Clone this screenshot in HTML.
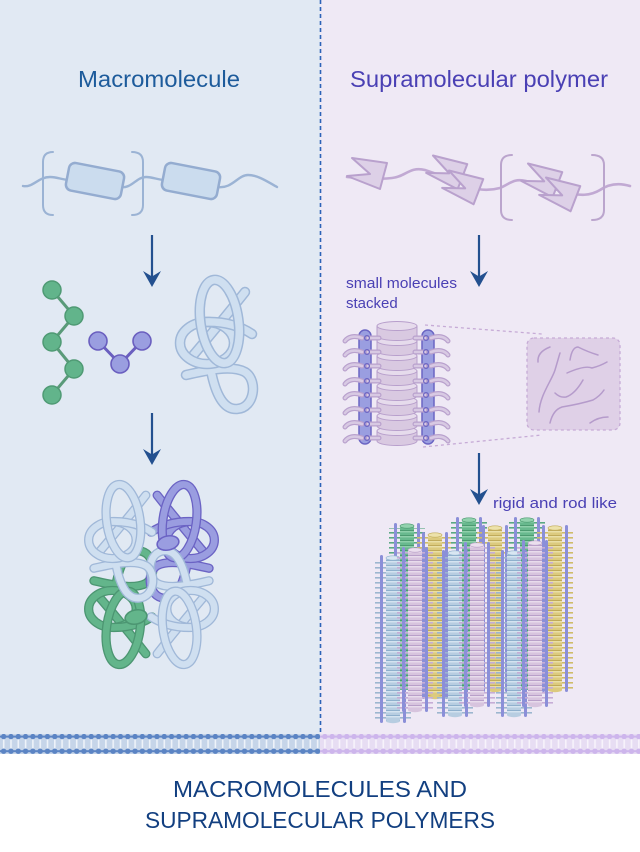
<!DOCTYPE html>
<html><head><meta charset="utf-8">
<style>
html,body{margin:0;padding:0;background:#fff;}
svg{display:block;}
text{font-family:"Liberation Sans",sans-serif;}
</style></head><body>
<svg width="640" height="852" viewBox="0 0 640 852" xmlns="http://www.w3.org/2000/svg" xmlns:xlink="http://www.w3.org/1999/xlink">
<defs>
  <g id="knot" stroke-linecap="round">
    <path d="M9,98 C23,95 53,87 68,95 C81,103 78,131 60,132 C45,133 37,113 33,88" style="fill:none;stroke:var(--o);stroke-width:10.5"/>
    <path d="M9,98 C23,95 53,87 68,95 C81,103 78,131 60,132 C45,133 37,113 33,88" style="fill:none;stroke:var(--f);stroke-width:7.5"/>
    <path d="M68,15 Q42,48 13,82" style="fill:none;stroke:var(--o);stroke-width:10.5"/>
    <path d="M68,15 Q42,48 13,82" style="fill:none;stroke:var(--f);stroke-width:7.5"/>
    <ellipse cx="30" cy="66" rx="27" ry="21" style="fill:none;stroke:var(--o);stroke-width:10.5"/>
    <ellipse cx="30" cy="66" rx="27" ry="21" style="fill:none;stroke:var(--f);stroke-width:7.5"/>
    <path d="M28,45 Q55,44 75,57" style="fill:none;stroke:var(--o);stroke-width:10.5"/>
    <path d="M28,45 Q55,44 75,57" style="fill:none;stroke:var(--f);stroke-width:7.5"/>
    <ellipse cx="42.5" cy="44.5" rx="19" ry="42" transform="rotate(-8 42.5 44.5)" style="fill:none;stroke:var(--o);stroke-width:10.5"/>
    <ellipse cx="42.5" cy="44.5" rx="19" ry="42" transform="rotate(-8 42.5 44.5)" style="fill:none;stroke:var(--f);stroke-width:7.5"/>
  </g>

  <polygon id="zz" points="5,0 40,5 33,31 0,18 23,16" fill="#ddd0e7" stroke="#b9a1cd" stroke-width="2" stroke-linejoin="round"/>

  <g id="arrow">
    <line x1="0" y1="0" x2="0" y2="44" stroke="#23508f" stroke-width="2.2"/>
    <polygon points="-9,36 0,41.5 9,36 0,52" fill="#23508f"/>
  </g>

  <g id="hrow" fill="none" stroke-linecap="round">
    <path d="M362,0 C354,-3 348,-1 345,3" stroke="#b9a1cd" stroke-width="5"/>
    <path d="M362,0 C354,-3 348,-1 345,3" stroke="#d8c9e3" stroke-width="2.6"/>
    <path d="M431,0 C439,-3 445,-1 448,3" stroke="#b9a1cd" stroke-width="5"/>
    <path d="M431,0 C439,-3 445,-1 448,3" stroke="#d8c9e3" stroke-width="2.6"/>
    <path d="M368,0 L379,0" stroke="#b9a1cd" stroke-width="5"/>
    <path d="M368,0 L379,0" stroke="#d8c9e3" stroke-width="2.6"/>
    <path d="M425,0 L415,0" stroke="#b9a1cd" stroke-width="5"/>
    <path d="M425,0 L415,0" stroke="#d8c9e3" stroke-width="2.6"/>
    <circle cx="367" cy="0" r="2.4" stroke="#6b65c3" stroke-width="1.2"/>
    <circle cx="426" cy="0" r="2.4" stroke="#6b65c3" stroke-width="1.2"/>
  </g>

  <g id="disc">
    <path d="M377,0 L377,10 A20,4.5 0 0 0 417,10 L417,0 Z" fill="#d9c9e1" stroke="#b79ecb" stroke-width="1"/>
    <ellipse cx="397" cy="0" rx="20" ry="4.5" fill="#e6dbec" stroke="#b79ecb" stroke-width="1"/>
  </g>

  <pattern id="dB" x="0" y="0" width="20" height="5" patternUnits="userSpaceOnUse">
    <rect width="20" height="5" fill="#b7cde1"/><rect width="20" height="1.1" fill="#8fb0cd"/><rect y="1.1" width="20" height="1.3" fill="#d8e6f2"/>
  </pattern>
  <pattern id="dP" x="0" y="0" width="20" height="5" patternUnits="userSpaceOnUse">
    <rect width="20" height="5" fill="#d7c4de"/><rect width="20" height="1.1" fill="#b9a0c9"/><rect y="1.1" width="20" height="1.3" fill="#ebdfee"/>
  </pattern>
  <pattern id="dY" x="0" y="0" width="20" height="5" patternUnits="userSpaceOnUse">
    <rect width="20" height="5" fill="#dcca7e"/><rect width="20" height="1.1" fill="#c0ab5b"/><rect y="1.1" width="20" height="1.3" fill="#ede2ab"/>
  </pattern>
  <pattern id="dG" x="0" y="0" width="20" height="5" patternUnits="userSpaceOnUse">
    <rect width="20" height="5" fill="#68b98e"/><rect width="20" height="1.1" fill="#4c9b71"/><rect y="1.1" width="20" height="1.3" fill="#92d2ae"/>
  </pattern>
  <pattern id="tB" x="0" y="0" width="40" height="5" patternUnits="userSpaceOnUse"><rect y="2" width="40" height="1.6" fill="#9cb6cf"/></pattern>
  <pattern id="tP" x="0" y="0" width="40" height="5" patternUnits="userSpaceOnUse"><rect y="2" width="40" height="1.6" fill="#c6add6"/></pattern>
  <pattern id="tY" x="0" y="0" width="40" height="5" patternUnits="userSpaceOnUse"><rect y="2" width="40" height="1.6" fill="#cfbc69"/></pattern>
  <pattern id="tG" x="0" y="0" width="40" height="5" patternUnits="userSpaceOnUse"><rect y="2" width="40" height="1.6" fill="#5aa983"/></pattern>

  <pattern id="stripL" x="0" y="734" width="7.3" height="20" patternUnits="userSpaceOnUse">
    <rect width="7.3" height="20" fill="#c6d5e9"/>
    <rect x="2.9" y="4" width="1.6" height="12" fill="#eef3f9"/>
    <rect y="1.6" width="7.3" height="2" fill="#5b84c4"/>
    <circle cx="3.65" cy="2.6" r="2.7" fill="#5b84c4"/>
    <rect y="16.2" width="7.3" height="2" fill="#5b84c4"/>
    <circle cx="3.65" cy="17.2" r="2.7" fill="#5b84c4"/>
  </pattern>
  <pattern id="stripR" x="0" y="734" width="7.3" height="20" patternUnits="userSpaceOnUse">
    <rect width="7.3" height="20" fill="#e7ddf3"/>
    <rect x="2.9" y="4" width="1.6" height="12" fill="#f7f3fb"/>
    <rect y="1.6" width="7.3" height="2" fill="#cdb5ec"/>
    <circle cx="3.65" cy="2.6" r="2.7" fill="#cdb5ec"/>
    <rect y="16.2" width="7.3" height="2" fill="#cdb5ec"/>
    <circle cx="3.65" cy="17.2" r="2.7" fill="#cdb5ec"/>
  </pattern>
</defs>

<!-- backgrounds -->
<rect x="0" y="0" width="320" height="734" fill="#e1e9f3"/>
<rect x="320" y="0" width="320" height="734" fill="#efe9f5"/>
<rect x="0" y="734" width="320" height="20" fill="url(#stripL)"/>
<rect x="320" y="734" width="320" height="20" fill="url(#stripR)"/>
<line x1="320.5" y1="0" x2="320.5" y2="734" stroke="#2d63b8" stroke-width="1.6" stroke-dasharray="4 3"/>

<!-- titles -->
<text x="159" y="87" text-anchor="middle" font-size="23" fill="#1d5b9b" textLength="162" lengthAdjust="spacingAndGlyphs">Macromolecule</text>
<text x="479" y="87" text-anchor="middle" font-size="23" fill="#4a40b4" textLength="258" lengthAdjust="spacingAndGlyphs">Supramolecular polymer</text>

<!-- left chain -->
<g fill="none" stroke="#9bb3d4" stroke-width="2.4" stroke-linecap="round">
  <path d="M23,186 C33,188 38,177 50,177 C58,177 62,180 70,180"/>
  <path d="M120,187 C132,189 136,177 146,177 C153,177 158,180 165,180"/>
  <path d="M218,187 C232,189 238,175 248,175 C258,175 268,182 277,187"/>
  <path d="M53,152 Q43,152 43,162 L43,205 Q43,215 53,215" stroke-width="2"/>
  <path d="M132,152 Q143,152 143,162 L143,205 Q143,215 132,215" stroke-width="2"/>
</g>
<rect x="67" y="167" width="56" height="28" rx="6" transform="rotate(11 95 181)" fill="#cbdcee" stroke="#94acd0" stroke-width="2.5"/>
<rect x="163" y="167" width="56" height="28" rx="6" transform="rotate(11 191 181)" fill="#cbdcee" stroke="#94acd0" stroke-width="2.5"/>

<!-- right chain -->
<path d="M347,177 Q375,180 392,178 C405,177 410,166 425,170 L460,182 C470,189 485,192 500,188 C510,184 513,178 526,181 L565,192 C580,196 590,196 600,190 C610,183 620,183 630,186" fill="none" stroke="#c1a9d3" stroke-width="2.6" stroke-linecap="round"/>
<g fill="none" stroke="#bba5cd" stroke-width="2" stroke-linecap="round">
  <path d="M512,155 Q501,155 501,165 L501,210 Q501,220 512,220"/>
  <path d="M592,155 Q604,155 604,165 L604,210 Q604,220 592,220"/>
</g>
<use xlink:href="#zz" transform="translate(347,158)"/>
<use xlink:href="#zz" transform="translate(428,155) rotate(6)"/>
<use xlink:href="#zz" transform="translate(444,170) rotate(6)"/>
<use xlink:href="#zz" transform="translate(523,163) rotate(6)"/>
<use xlink:href="#zz" transform="translate(541,177) rotate(6)"/>

<!-- arrows -->
<use xlink:href="#arrow" transform="translate(152,235)"/>
<use xlink:href="#arrow" transform="translate(152,413)"/>
<use xlink:href="#arrow" transform="translate(479,235)"/>
<use xlink:href="#arrow" transform="translate(479,453)"/>

<!-- green chain -->
<g stroke="#5a9a79" stroke-width="3">
  <line x1="52" y1="290" x2="74" y2="316"/><line x1="74" y1="316" x2="52" y2="342"/>
  <line x1="52" y1="342" x2="74" y2="369"/><line x1="74" y1="369" x2="52" y2="395"/>
</g>
<g fill="#62b48b" stroke="#4f9a74" stroke-width="1.5">
  <circle cx="52" cy="290" r="9"/><circle cx="74" cy="316" r="9"/><circle cx="52" cy="342" r="9"/><circle cx="74" cy="369" r="9"/><circle cx="52" cy="395" r="9"/>
</g>
<!-- purple chain -->
<g stroke="#6a5fbf" stroke-width="3"><line x1="98" y1="341" x2="120" y2="364"/><line x1="120" y1="364" x2="142" y2="341"/></g>
<g fill="#9a9ee0" stroke="#6a5fbf" stroke-width="1.6">
  <circle cx="98" cy="341" r="9"/><circle cx="120" cy="364" r="9"/><circle cx="142" cy="341" r="9"/>
</g>

<!-- single knot -->
<use xlink:href="#knot" transform="translate(177,277)" style="--o:#a0b8d8;--f:#cfdff0"/>

<!-- cluster -->
<use xlink:href="#knot" transform="translate(86,667) scale(0.88,-0.88)" style="--o:#4c9672;--f:#63b58b"/>
<use xlink:href="#knot" transform="translate(217,482) scale(-0.88,0.88)" style="--o:#6b63c4;--f:#9a9de0"/>
<use xlink:href="#knot" transform="translate(217,667) scale(-0.88,-0.88)" style="--o:#a0b8d8;--f:#cfdff0"/>
<use xlink:href="#knot" transform="translate(86,482) scale(0.88,0.88)" style="--o:#a0b8d8;--f:#cfdff0"/>
<ellipse cx="168" cy="543" rx="11" ry="7" transform="rotate(-12 168 543)" fill="#9a9de0" stroke="#6b63c4" stroke-width="1.6"/>
<ellipse cx="136" cy="617" rx="11" ry="7" transform="rotate(-12 136 617)" fill="#63b58b" stroke="#4c9672" stroke-width="1.6"/>

<!-- small molecules stacked -->
<text x="346" y="288" font-size="15" fill="#4a40b4" textLength="111" lengthAdjust="spacingAndGlyphs">small molecules</text>
<text x="346" y="308" font-size="15" fill="#4a40b4">stacked</text>

<g>
  <use xlink:href="#disc" y="431"/>
  <use xlink:href="#disc" y="416"/>
  <use xlink:href="#disc" y="401"/>
  <use xlink:href="#disc" y="386"/>
  <use xlink:href="#disc" y="371"/>
  <use xlink:href="#disc" y="356"/>
  <use xlink:href="#disc" y="341"/>
  <use xlink:href="#disc" y="326"/>
</g>
<rect x="359" y="330" width="12" height="114" rx="6" fill="#9a9ee0" stroke="#6b65c3" stroke-width="1.5"/>
<rect x="422" y="330" width="12" height="114" rx="6" fill="#9a9ee0" stroke="#6b65c3" stroke-width="1.5"/>
<use xlink:href="#hrow" y="338"/>
<use xlink:href="#hrow" y="352"/>
<use xlink:href="#hrow" y="366"/>
<use xlink:href="#hrow" y="381"/>
<use xlink:href="#hrow" y="395"/>
<use xlink:href="#hrow" y="410"/>
<use xlink:href="#hrow" y="424"/>
<use xlink:href="#hrow" y="438"/>

<!-- zoom box -->
<g stroke="#c6abd6" stroke-width="1.3" stroke-dasharray="3 3" fill="none">
  <line x1="425" y1="325" x2="542" y2="334"/>
  <line x1="423" y1="447" x2="542" y2="435"/>
</g>
<rect x="527" y="338" width="93" height="92" rx="7" fill="#dfd0e7" stroke="#c6abd6" stroke-width="1.3" stroke-dasharray="3 3"/>
<g fill="none" stroke="#b59bcb" stroke-width="1.5" stroke-linecap="round">
  <path d="M538,362 Q537,352 550,347"/>
  <path d="M539,412 C540,395 552,380 555,370 S559,356 560,353"/>
  <path d="M570,360 Q572,347 578,347 Q588,352 598,355"/>
  <path d="M567,373 Q585,365 592,368 Q600,366 607,362"/>
  <path d="M555,393 Q560,398 566,397 Q575,394 583,380"/>
  <path d="M550,423 Q553,410 562,407 Q580,404 593,400 Q600,396 604,390"/>
  <path d="M590,423 Q598,417 608,417"/>
</g>

<!-- rigid and rod like -->
<text x="493" y="508" font-size="15" fill="#4a40b4" textLength="124" lengthAdjust="spacingAndGlyphs">rigid and rod like</text>

<!-- rods: back row -->
<g>
  <rect x="389" y="528" width="36" height="162" fill="url(#tG)"/>
  <rect x="400" y="526" width="14" height="164" fill="url(#dG)"/>
  <ellipse cx="407" cy="526" rx="7" ry="2.2" fill="#92d2ae" stroke="#4c9b71" stroke-width=".6"/>
  <rect x="394" y="523" width="3" height="169" rx="1.5" fill="#8b8fd8"/><rect x="417" y="523" width="3" height="169" rx="1.5" fill="#8b8fd8"/>
</g>
<g>
  <rect x="417" y="537" width="36" height="160" fill="url(#tY)"/>
  <rect x="428" y="535" width="14" height="162" fill="url(#dY)"/>
  <ellipse cx="435" cy="535" rx="7" ry="2.2" fill="#ede2ab" stroke="#c0ab5b" stroke-width=".6"/>
  <ellipse cx="435" cy="697" rx="7" ry="2.2" fill="#dcca7e"/>
  <rect x="422" y="532" width="3" height="167" rx="1.5" fill="#8b8fd8"/><rect x="445" y="532" width="3" height="167" rx="1.5" fill="#8b8fd8"/>
</g>
<g>
  <rect x="451" y="522" width="36" height="168" fill="url(#tG)"/>
  <rect x="462" y="520" width="14" height="170" fill="url(#dG)"/>
  <ellipse cx="469" cy="520" rx="7" ry="2.2" fill="#92d2ae" stroke="#4c9b71" stroke-width=".6"/>
  <rect x="456" y="517" width="3" height="175" rx="1.5" fill="#8b8fd8"/><rect x="479" y="517" width="3" height="175" rx="1.5" fill="#8b8fd8"/>
</g>
<g>
  <rect x="477" y="530" width="36" height="160" fill="url(#tY)"/>
  <rect x="488" y="528" width="14" height="162" fill="url(#dY)"/>
  <ellipse cx="495" cy="528" rx="7" ry="2.2" fill="#ede2ab" stroke="#c0ab5b" stroke-width=".6"/>
  <ellipse cx="495" cy="690" rx="7" ry="2.2" fill="#dcca7e"/>
  <rect x="482" y="525" width="3" height="167" rx="1.5" fill="#8b8fd8"/><rect x="505" y="525" width="3" height="167" rx="1.5" fill="#8b8fd8"/>
</g>
<g>
  <rect x="509" y="522" width="36" height="168" fill="url(#tG)"/>
  <rect x="520" y="520" width="14" height="170" fill="url(#dG)"/>
  <ellipse cx="527" cy="520" rx="7" ry="2.2" fill="#92d2ae" stroke="#4c9b71" stroke-width=".6"/>
  <rect x="514" y="517" width="3" height="175" rx="1.5" fill="#8b8fd8"/><rect x="537" y="517" width="3" height="175" rx="1.5" fill="#8b8fd8"/>
</g>
<g>
  <rect x="537" y="530" width="36" height="160" fill="url(#tY)"/>
  <rect x="548" y="528" width="14" height="162" fill="url(#dY)"/>
  <ellipse cx="555" cy="528" rx="7" ry="2.2" fill="#ede2ab" stroke="#c0ab5b" stroke-width=".6"/>
  <ellipse cx="555" cy="690" rx="7" ry="2.2" fill="#dcca7e"/>
  <rect x="542" y="525" width="3" height="167" rx="1.5" fill="#8b8fd8"/><rect x="565" y="525" width="3" height="167" rx="1.5" fill="#8b8fd8"/>
</g>

<!-- rods: front row -->
<g>
  <rect x="375" y="560" width="36" height="161" fill="url(#tB)"/>
  <rect x="386" y="558" width="14" height="163" fill="url(#dB)"/>
  <ellipse cx="393" cy="558" rx="7" ry="2.2" fill="#d8e6f2" stroke="#8fb0cd" stroke-width=".6"/>
  <ellipse cx="393" cy="721" rx="7" ry="2.2" fill="#b7cde1"/>
  <rect x="380" y="555" width="3" height="168" rx="1.5" fill="#8b8fd8"/><rect x="403" y="555" width="3" height="168" rx="1.5" fill="#8b8fd8"/>
</g>
<g>
  <rect x="397" y="552" width="36" height="158" fill="url(#tP)"/>
  <rect x="408" y="550" width="14" height="160" fill="url(#dP)"/>
  <ellipse cx="415" cy="550" rx="7" ry="2.2" fill="#ebdfee" stroke="#b9a0c9" stroke-width=".6"/>
  <ellipse cx="415" cy="710" rx="7" ry="2.2" fill="#d7c4de"/>
  <rect x="402" y="547" width="3" height="165" rx="1.5" fill="#8b8fd8"/><rect x="425" y="547" width="3" height="165" rx="1.5" fill="#8b8fd8"/>
</g>
<g>
  <rect x="437" y="555" width="36" height="160" fill="url(#tB)"/>
  <rect x="448" y="553" width="14" height="162" fill="url(#dB)"/>
  <ellipse cx="455" cy="553" rx="7" ry="2.2" fill="#d8e6f2" stroke="#8fb0cd" stroke-width=".6"/>
  <ellipse cx="455" cy="715" rx="7" ry="2.2" fill="#b7cde1"/>
  <rect x="442" y="550" width="3" height="167" rx="1.5" fill="#8b8fd8"/><rect x="465" y="550" width="3" height="167" rx="1.5" fill="#8b8fd8"/>
</g>
<g>
  <rect x="459" y="547" width="36" height="158" fill="url(#tP)"/>
  <rect x="470" y="545" width="14" height="160" fill="url(#dP)"/>
  <ellipse cx="477" cy="545" rx="7" ry="2.2" fill="#ebdfee" stroke="#b9a0c9" stroke-width=".6"/>
  <ellipse cx="477" cy="705" rx="7" ry="2.2" fill="#d7c4de"/>
  <rect x="464" y="542" width="3" height="165" rx="1.5" fill="#8b8fd8"/><rect x="487" y="542" width="3" height="165" rx="1.5" fill="#8b8fd8"/>
</g>
<g>
  <rect x="496" y="555" width="36" height="160" fill="url(#tB)"/>
  <rect x="507" y="553" width="14" height="162" fill="url(#dB)"/>
  <ellipse cx="514" cy="553" rx="7" ry="2.2" fill="#d8e6f2" stroke="#8fb0cd" stroke-width=".6"/>
  <ellipse cx="514" cy="715" rx="7" ry="2.2" fill="#b7cde1"/>
  <rect x="501" y="550" width="3" height="167" rx="1.5" fill="#8b8fd8"/><rect x="524" y="550" width="3" height="167" rx="1.5" fill="#8b8fd8"/>
</g>
<g>
  <rect x="517" y="545" width="36" height="160" fill="url(#tP)"/>
  <rect x="528" y="543" width="14" height="162" fill="url(#dP)"/>
  <ellipse cx="535" cy="543" rx="7" ry="2.2" fill="#ebdfee" stroke="#b9a0c9" stroke-width=".6"/>
  <ellipse cx="535" cy="705" rx="7" ry="2.2" fill="#d7c4de"/>
  <rect x="522" y="540" width="3" height="167" rx="1.5" fill="#8b8fd8"/><rect x="545" y="540" width="3" height="167" rx="1.5" fill="#8b8fd8"/>
</g>

<!-- bottom title -->
<text x="320" y="797" text-anchor="middle" font-size="23" fill="#123f80" textLength="294" lengthAdjust="spacingAndGlyphs">MACROMOLECULES AND</text>
<text x="320" y="828" text-anchor="middle" font-size="23" fill="#123f80" textLength="350" lengthAdjust="spacingAndGlyphs">SUPRAMOLECULAR POLYMERS</text>
</svg>
</body></html>
